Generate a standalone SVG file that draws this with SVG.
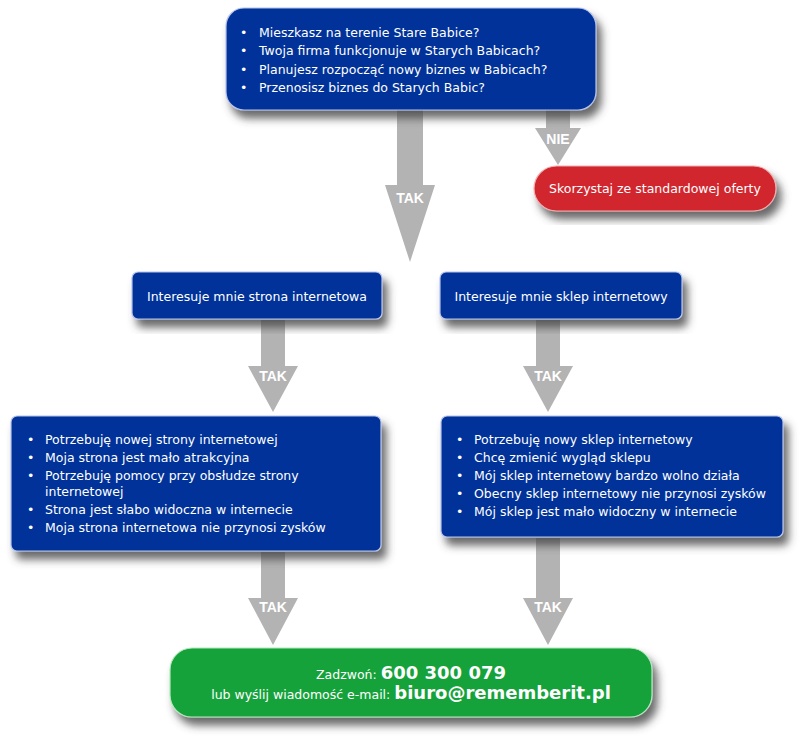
<svg xmlns="http://www.w3.org/2000/svg" width="800" height="737" viewBox="0 0 800 737">
<defs>
<filter id="sh" x="-10%" y="-20%" width="125%" height="150%">
<feDropShadow dx="5" dy="8" stdDeviation="4" flood-color="#444" flood-opacity="0.8"/>
</filter>
<style>
.blue{fill:#003399;stroke:#b8c4ea;stroke-width:1.2}
.red{fill:#d1262f;stroke:#f0b0b0;stroke-width:1.2}
.green{fill:#12a23a;stroke:#b8e8c0;stroke-width:1.2}
.t{font-family:"DejaVu Sans",Verdana,sans-serif;font-size:12.5px;fill:#fff}
.c{text-anchor:middle}
.arr{fill:#b3b3b3}
.lab{font-family:"Liberation Sans",Arial,sans-serif;font-weight:bold;font-size:14px;fill:#fff;text-anchor:middle}
.big{font-family:"DejaVu Sans",Verdana,sans-serif;font-weight:bold;font-size:18px;fill:#fff}
</style>
</defs>
<rect width="800" height="737" fill="#fff"/>
<g id="connectors">
<g id="c1"><polygon class="arr" points="397,110 423,110 423,185 435,185 410,262 385,185 397,185"/><text class="lab" x="410" y="203">TAK</text></g>
<g id="c2"><polygon class="arr" points="546,110 570,110 570,128 581,128 558,165 535,128 546,128"/><text class="lab" x="558" y="144">NIE</text></g>
<g id="c3"><polygon class="arr" points="261,320 285,320 285,366 298,366 273,412 248,366 261,366"/><text class="lab" x="273" y="381">TAK</text></g>
<g id="c4"><polygon class="arr" points="536,320 560,320 560,366 573,366 548,412 523,366 536,366"/><text class="lab" x="548" y="381">TAK</text></g>
<g id="c5"><polygon class="arr" points="261,552 285,552 285,598 298,598 273,645 248,598 261,598"/><text class="lab" x="273" y="612">TAK</text></g>
<g id="c6"><polygon class="arr" points="536,538 560,538 560,598 573,598 548,645 523,598 536,598"/><text class="lab" x="548" y="612">TAK</text></g>
</g>
<g id="n1">
<rect class="blue" x="226" y="8" width="370" height="102" rx="18" filter="url(#sh)"/>
<g class="t">
<text x="240" y="37">•</text><text x="259" y="37">Mieszkasz na terenie Stare Babice?</text>
<text x="240" y="55">•</text><text x="259" y="55">Twoja firma funkcjonuje w Starych Babicach?</text>
<text x="240" y="74">•</text><text x="259" y="74">Planujesz rozpocząć nowy biznes w Babicach?</text>
<text x="240" y="92">•</text><text x="259" y="92">Przenosisz biznes do Starych Babic?</text>
</g>
</g>
<g id="n2">
<rect class="red" x="534" y="166" width="242" height="45" rx="22.5" filter="url(#sh)"/>
<text class="t c" x="655" y="193">Skorzystaj ze standardowej oferty</text>
</g>
<g id="n3">
<rect class="blue" x="132" y="272" width="250" height="47" rx="6" filter="url(#sh)"/>
<text class="t c" x="257" y="301">Interesuje mnie strona internetowa</text>
</g>
<g id="n4">
<rect class="blue" x="440" y="272" width="242" height="47" rx="6" filter="url(#sh)"/>
<text class="t c" x="561" y="301">Interesuje mnie sklep internetowy</text>
</g>
<g id="n5">
<rect class="blue" x="11" y="416" width="370" height="135" rx="6" filter="url(#sh)"/>
<g class="t">
<text x="27" y="444">•</text><text x="45" y="444">Potrzebuję nowej strony internetowej</text>
<text x="27" y="462">•</text><text x="45" y="462">Moja strona jest mało atrakcyjna</text>
<text x="27" y="480">•</text><text x="45" y="480">Potrzebuję pomocy przy obsłudze strony</text>
<text x="45" y="496">internetowej</text>
<text x="27" y="514">•</text><text x="45" y="514">Strona jest słabo widoczna w internecie</text>
<text x="27" y="532">•</text><text x="45" y="532">Moja strona internetowa nie przynosi zysków</text>
</g>
</g>
<g id="n6">
<rect class="blue" x="441" y="416" width="342" height="121" rx="6" filter="url(#sh)"/>
<g class="t">
<text x="456" y="444">•</text><text x="474" y="444">Potrzebuję nowy sklep internetowy</text>
<text x="456" y="462">•</text><text x="474" y="462">Chcę zmienić wygląd sklepu</text>
<text x="456" y="480">•</text><text x="474" y="480">Mój sklep internetowy bardzo wolno działa</text>
<text x="456" y="498">•</text><text x="474" y="498">Obecny sklep internetowy nie przynosi zysków</text>
<text x="456" y="516">•</text><text x="474" y="516">Mój sklep jest mało widoczny w internecie</text>
</g>
</g>
<g id="n7">
<rect class="green" x="170" y="648" width="482" height="69" rx="22" filter="url(#sh)"/>
<text class="c" x="411" y="679"><tspan class="t">Zadzwoń: </tspan><tspan class="big">600 300 079</tspan></text>
<text class="c" x="411" y="699"><tspan class="t">lub wyślij wiadomość e-mail: </tspan><tspan class="big">biuro@rememberit.pl</tspan></text>
</g>
</svg>
